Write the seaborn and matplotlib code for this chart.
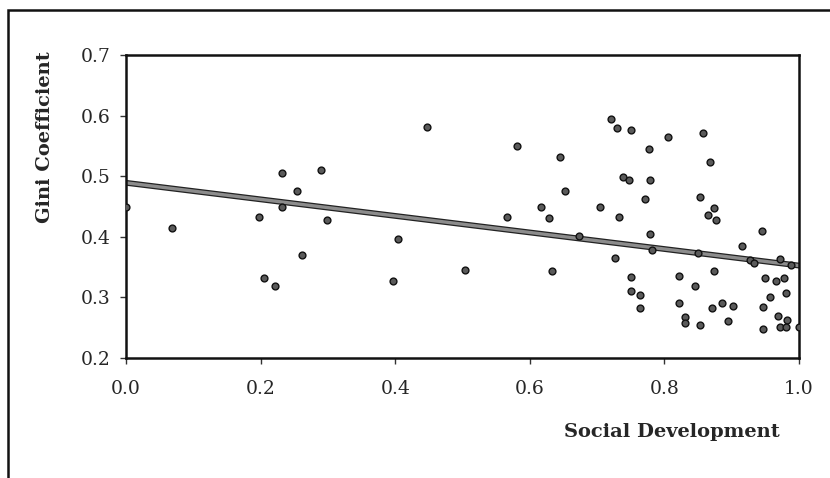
import numpy as np
import pandas as pd
import matplotlib
matplotlib.use("Agg")
import matplotlib.pyplot as plt
import matplotlib.patheffects as pe
from matplotlib.patches import Rectangle
import seaborn as sns

# values
social_dev = [0.000, 0.068, 0.198, 0.232, 0.232, 0.254, 0.290, 0.298, 0.261, 0.205,
              0.222, 0.447, 0.404, 0.396, 0.504, 0.581, 0.645, 0.652, 0.617, 0.566,
              0.629, 0.633, 0.673, 0.720, 0.729, 0.751, 0.806, 0.777, 0.739, 0.748,
              0.778, 0.771, 0.704, 0.732, 0.779, 0.782, 0.850, 0.727, 0.751, 0.822,
              0.845, 0.751, 0.763, 0.763, 0.822, 0.830, 0.830, 0.853, 0.857, 0.868,
              0.853, 0.874, 0.865, 0.876, 0.945, 0.915, 0.927, 0.933, 0.971, 0.988,
              0.873, 0.949, 0.966, 0.978, 0.980, 0.957, 0.946, 0.886, 0.902, 0.870,
              0.895, 0.946, 0.969, 0.982, 0.971, 0.981, 1.000]
gini = [0.450, 0.414, 0.432, 0.506, 0.450, 0.476, 0.511, 0.428, 0.370, 0.332,
        0.319, 0.581, 0.397, 0.327, 0.345, 0.550, 0.532, 0.476, 0.450, 0.432,
        0.431, 0.344, 0.402, 0.594, 0.580, 0.576, 0.565, 0.545, 0.499, 0.493,
        0.493, 0.462, 0.449, 0.433, 0.405, 0.378, 0.374, 0.365, 0.333, 0.336,
        0.319, 0.311, 0.304, 0.282, 0.291, 0.267, 0.258, 0.254, 0.572, 0.523,
        0.466, 0.448, 0.436, 0.427, 0.410, 0.385, 0.361, 0.356, 0.363, 0.353,
        0.344, 0.332, 0.327, 0.332, 0.308, 0.301, 0.284, 0.291, 0.286, 0.282,
        0.261, 0.248, 0.269, 0.262, 0.252, 0.252, 0.251]

x_ticks = [0.0, 0.2, 0.4, 0.6, 0.8, 1.0]
y_ticks = [0.2, 0.3, 0.4, 0.5, 0.6, 0.7]

df = pd.DataFrame({'Social Development': social_dev, 'Gini Coefficient': gini})

sns.set_style('ticks')
plt.rcParams['font.family'] = ['DejaVu Serif']

fig = plt.figure(figsize=(8.3, 4.78), dpi=100)
ax = fig.add_axes([0.1518, 0.2510, 0.8109, 0.6339])

# fitted trend line + points
sns.regplot(x='Social Development', y='Gini Coefficient', data=df, ax=ax,
            ci=None, truncate=False,
            scatter_kws=dict(s=24, color='#5a5a5a', edgecolor='#111111',
                             linewidths=1.0, zorder=3, alpha=1),
            line_kws=dict(color='#8c8c8c', lw=2.4, zorder=2,
                          path_effects=[pe.Stroke(linewidth=4.2, foreground='#222222'),
                                        pe.Normal()]))

ax.set_xlim(0, 1.0)
ax.set_ylim(0.2, 0.7)
ax.set_xticks(x_ticks)
ax.set_yticks(y_ticks)
ax.set_xticklabels([f'{v:.1f}' for v in x_ticks])
ax.set_yticklabels([f'{v:.1f}' for v in y_ticks])
ax.tick_params(labelsize=13.5, length=4, width=1, color='#333333')
ax.tick_params(axis='x', pad=12)
ax.tick_params(axis='y', pad=7)
for s in ax.spines.values():
    s.set_visible(True)
    s.set_linewidth(1.8)
    s.set_color('#111111')

ax.set_xlabel('')
ax.set_ylabel('')
fig.text(0.054, 0.713, 'Gini Coefficient', rotation=90, ha='center', va='center',
         fontsize=14, fontweight='bold')
fig.text(0.81, 0.096, 'Social Development', ha='center', va='center',
         fontsize=14, fontweight='bold')

# outer frame of the scanned figure
fig.patches.append(Rectangle((8 / 830, -0.05), 1.1, 1 - 10 / 478 + 0.05,
                             transform=fig.transFigure, fill=False,
                             edgecolor='#111111', linewidth=1.8))

fig.savefig('out.png', dpi=100)
